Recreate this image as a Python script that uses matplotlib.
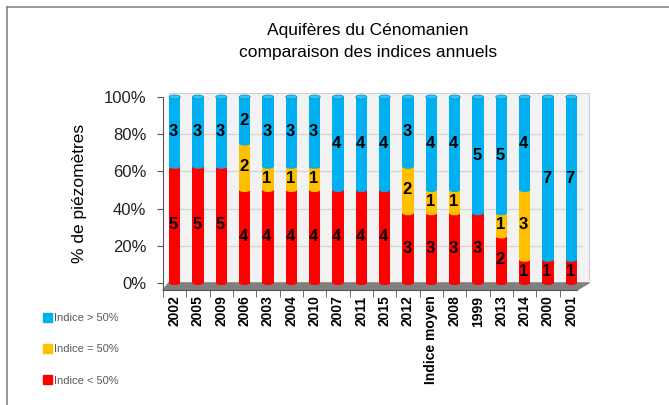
import numpy as np
import matplotlib
matplotlib.use('Agg')
from matplotlib import pyplot as plt
from matplotlib.patches import Rectangle, Ellipse, Polygon
from matplotlib.lines import Line2D

# donnees (nombre de piezometres)
annees = ['2002', '2005', '2009', '2006', '2003', '2004', '2010', '2007', '2011',
          '2015', '2012', 'Indice moyen', '2008', '1999', '2013', '2014', '2000', '2001']
inf50 = [5, 5, 5, 4, 4, 4, 4, 4, 4, 4, 3, 3, 3, 3, 2, 1, 1, 1]
egal50 = [0, 0, 0, 2, 1, 1, 1, 0, 0, 0, 2, 1, 1, 0, 1, 3, 0, 0]
sup50 = [3, 3, 3, 2, 3, 3, 3, 4, 4, 4, 3, 4, 4, 5, 5, 4, 7, 7]

c_rouge = '#ff0000'
c_jaune = '#ffc000'
c_bleu = '#00b0f0'

plt.rcParams['font.family'] = ['Liberation Sans', 'DejaVu Sans']

fig = plt.figure(figsize=(6.69, 4.05), dpi=100)

# cadre exterieur
fig.add_artist(Line2D([7/669, 7/669], [0, 1 - 7/405], color='#868686', lw=1.2))
fig.add_artist(Line2D([7/669, 1], [1 - 7/405, 1 - 7/405], color='#868686', lw=1.2))

fig.text(0.55, 1 - 30/405, 'Aquifères du Cénomanien', ha='center', va='center', fontsize=12.5)
fig.text(0.55, 1 - 53/405, 'comparaison des indices annuels', ha='center', va='center', fontsize=12.5)

ax = fig.add_axes([163/669, 1 - 290/405, 420/669, 193/405])
n = len(annees)
x = np.arange(n)
ymin = -0.038
ax.set_xlim(-0.5, n - 0.5)
ax.set_ylim(ymin, 1.0)
ax.set_facecolor('none')

# mur du fond + grille
ax.add_patch(Rectangle((-0.25, 0), n, 1.02, facecolor='#f2f2f2', edgecolor='#d0d0d0', lw=0.8,
                       zorder=0, clip_on=False))
for g in [0.2, 0.4, 0.6, 0.8]:
    ax.plot([-0.25, n - 0.25], [g, g], color='#d4d4d4', lw=0.9, zorder=0.5)
# sol
ax.add_patch(Polygon([(-0.5, ymin), (n - 0.75, ymin), (n - 0.25, 0), (-0.25, 0)],
                     closed=True, facecolor='#7f7f7f', edgecolor='#7f7f7f', zorder=0.8, clip_on=False))

tot = np.array(inf50) + np.array(egal50) + np.array(sup50)
w = 0.48
eh = 0.022
for i in range(n):
    bas = 0.0
    for val, col in [(inf50[i], c_rouge), (egal50[i], c_jaune), (sup50[i], c_bleu)]:
        if val == 0:
            continue
        h = val / tot[i]
        z = 2 + bas
        ax.add_patch(Rectangle((x[i] - w/2, bas), w, h, facecolor=col, edgecolor='none', zorder=z))
        ax.add_patch(Ellipse((x[i], bas), w, eh, facecolor=col, edgecolor='none', zorder=z))
        ax.text(x[i] - 0.05, bas + h/2, str(val), ha='center', va='center', fontsize=12,
                fontweight='bold', color='black', zorder=10)
        bas += h
    ax.add_patch(Ellipse((x[i], 1.0), w, eh, facecolor='#33c4f5', edgecolor='#0090c8', lw=0.5,
                         zorder=5, clip_on=False))

ax.set_yticks([0, 0.2, 0.4, 0.6, 0.8, 1.0])
ax.set_yticklabels(['0%', '20%', '40%', '60%', '80%', '100%'], fontsize=12, color='#222222')
ax.tick_params(axis='y', length=4, color='#555555', pad=8)
ax.spines['left'].set_bounds(ymin, 1.0)
ax.spines['left'].set_color('#555555')
ax.spines['bottom'].set_color('#555555')
ax.spines['bottom'].set_bounds(-0.5, n - 0.75)
ax.spines['top'].set_visible(False)
ax.spines['right'].set_visible(False)

ax.set_xticks(x)
ax.set_xticklabels(annees, rotation=90, fontsize=10, fontweight='bold')
ax.tick_params(axis='x', length=0, pad=4)
ax.set_xticks(np.arange(-0.5, n - 0.5, 1), minor=True)
ax.tick_params(axis='x', which='minor', length=5, color='#555555')

ax.set_ylabel('% de piézomètres', fontsize=12.5, labelpad=12)

handles = [Rectangle((0, 0), 1, 1, color=c_bleu),
           Rectangle((0, 0), 1, 1, color=c_jaune),
           Rectangle((0, 0), 1, 1, color=c_rouge)]
fig.legend(handles, ['Indice > 50%', 'Indice = 50%', 'Indice < 50%'],
           loc='upper left', bbox_to_anchor=(33/669, 1 - 303/405), frameon=False,
           fontsize=8, labelcolor='#595959', handlelength=0.8, handleheight=0.8,
           handletextpad=0.2, labelspacing=1.9)

fig.savefig('out.png', dpi=100)
